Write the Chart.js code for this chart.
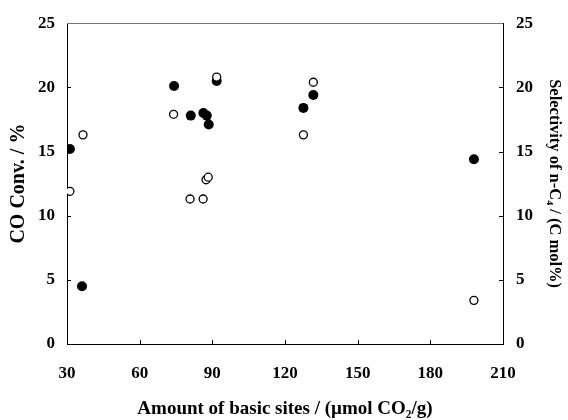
<!DOCTYPE html>
<html>
<head>
<meta charset="utf-8">
<script src="https://cdn.jsdelivr.net/npm/chart.js@4"></script>
<style>
  html, body { margin: 0; padding: 0; background: #fff; }
  #wrap { width: 568px; height: 420px; }
</style>
</head>
<body>
<div id="wrap"><canvas id="chart"></canvas></div>
<script>
// CO conversion (filled circles, left axis)
const convX = [31.2, 36.2, 74.2, 81.1, 86.3, 87.7, 88.5, 91.8, 127.6, 131.7, 198.0];
const convY = [15.2, 4.5, 20.1, 17.8, 18.0, 17.8, 17.1, 20.5, 18.4, 19.4, 14.4];

// n-C4 selectivity (open circles, right axis)
const selX = [31.2, 36.6, 74.0, 80.8, 86.2, 87.4, 88.3, 91.8, 127.6, 131.7, 198.0];
const selY = [11.9, 16.3, 17.9, 11.3, 11.3, 12.8, 13.0, 20.8, 16.3, 20.4, 3.4];

const xTicks = [30, 60, 90, 120, 150, 180, 210];
const yTicks = [0, 5, 10, 15, 20, 25];

const toPoints = (xs, ys) => xs.map((x, i) => ({ x: x, y: ys[i] }));

const serif = '"Liberation Serif", "Times New Roman", serif';
const tickFont = { family: serif, size: 17, weight: 'bold' };

// inward tick marks + faint top frame
const frame = {
  id: 'frame',
  afterDraw(chart) {
    const ctx = chart.ctx;
    const a = chart.chartArea;
    const sx = chart.scales.x, sy = chart.scales.y, sy2 = chart.scales.y2;
    ctx.save();
    ctx.strokeStyle = '#000';
    ctx.lineWidth = 1;
    ctx.beginPath();
    xTicks.forEach((v) => {
      const px = Math.round(sx.getPixelForValue(v)) + 0.5;
      ctx.moveTo(px, a.bottom);
      ctx.lineTo(px, a.bottom - 4);
    });
    yTicks.forEach((v) => {
      const py = Math.round(sy.getPixelForValue(v)) + 0.5;
      ctx.moveTo(a.left, py);
      ctx.lineTo(a.left + 4, py);
      const py2 = Math.round(sy2.getPixelForValue(v)) + 0.5;
      ctx.moveTo(a.right, py2);
      ctx.lineTo(a.right - 4, py2);
    });
    ctx.stroke();
    ctx.strokeStyle = '#777';
    ctx.beginPath();
    ctx.moveTo(a.left, Math.round(a.top) + 0.5);
    ctx.lineTo(a.right, Math.round(a.top) + 0.5);
    ctx.stroke();
    ctx.restore();
  },
};

new Chart(document.getElementById('chart'), {
  type: 'scatter',
  data: {
    datasets: [
      {
        label: 'Selectivity of n-C4',
        data: toPoints(selX, selY),
        yAxisID: 'y2',
        pointRadius: 4,
        pointBorderWidth: 1.3,
        pointBackgroundColor: '#fff',
        pointBorderColor: '#000',
      },
      {
        label: 'CO Conv.',
        data: toPoints(convX, convY),
        yAxisID: 'y',
        pointRadius: 5,
        pointBorderWidth: 0,
        pointBackgroundColor: '#000',
        pointBorderColor: '#000',
      },
    ],
  },
  options: {
    responsive: true,
    maintainAspectRatio: false,
    animation: false,
    layout: { padding: { top: 18, left: 0, right: 0, bottom: 0 } },
    plugins: { legend: { display: false }, tooltip: { enabled: false } },
    scales: {
      x: {
        type: 'linear',
        min: 30,
        max: 210,
        afterFit: (s) => { s.height = 76; },
        afterBuildTicks: (s) => { s.ticks = xTicks.map((v) => ({ value: v })); },
        grid: { display: true, drawOnChartArea: false, drawTicks: false },
        border: { display: true, color: '#000', width: 1 },
        ticks: { font: tickFont, color: '#000', padding: 19, maxRotation: 0 },
        title: {
          display: true,
          text: 'Amount of basic sites / (\u00b5mol CO\u2082/g)',
          font: { family: serif, size: 19, weight: 'bold' },
          color: '#000',
          padding: { top: 0, bottom: 0 },
        },
      },
      y: {
        position: 'left',
        min: 0,
        max: 25,
        afterFit: (s) => { s.width = 67; },
        afterBuildTicks: (s) => { s.ticks = yTicks.map((v) => ({ value: v })); },
        grid: { display: true, drawOnChartArea: false, drawTicks: false },
        border: { display: true, color: '#000', width: 1 },
        ticks: { font: tickFont, color: '#000', padding: 12 },
        title: {
          display: true,
          text: 'CO Conv. / %',
          font: { family: serif, size: 20, weight: 'bold' },
          color: '#000',
          padding: { top: 7, bottom: 0 },
        },
      },
      y2: {
        position: 'right',
        min: 0,
        max: 25,
        afterFit: (s) => { s.width = 65; },
        afterBuildTicks: (s) => { s.ticks = yTicks.map((v) => ({ value: v })); },
        grid: { display: true, drawOnChartArea: false, drawTicks: false },
        border: { display: true, color: '#000', width: 1 },
        ticks: { font: tickFont, color: '#000', padding: 13 },
        title: {
          display: true,
          text: 'Selectivity of n-C\u2084 / (C mol%)',
          font: { family: serif, size: 16.5, weight: 'bold' },
          color: '#000',
          padding: { top: 4, bottom: 0 },
        },
      },
    },
  },
  plugins: [frame],
});
</script>
</body>
</html>
